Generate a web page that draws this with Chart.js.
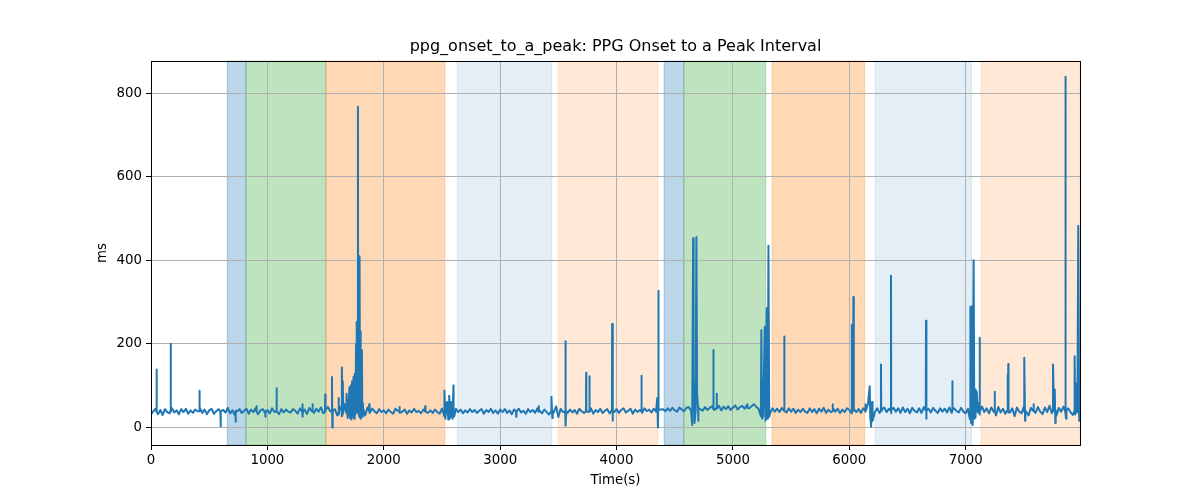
<!DOCTYPE html>
<html>
<head>
<meta charset="utf-8">
<script src="https://cdn.jsdelivr.net/npm/chart.js@4/dist/chart.umd.min.js"></script>
<style>
  html, body { margin: 0; padding: 0; background: #fff; }
  #wrap { width: 1200px; height: 500px; }
</style>
</head>
<body>
<div id="wrap"><canvas id="grafica" width="1200" height="500"></canvas></div>
<script>
// ── Datos ────────────────────────────────────────────────────────────────────
const TITULO = 'ppg_onset_to_a_peak: PPG Onset to a Peak Interval';
const X_LABEL = 'Time(s)';
const Y_LABEL = 'ms';

const X_MIN = 0, X_MAX = 7982;
const Y_MIN = -43, Y_MAX = 878;
const xTicks = [0, 1000, 2000, 3000, 4000, 5000, 6000, 7000];
const yTicks = [0, 200, 400, 600, 800];

// línea base, una muestra cada 20 s (0 … 7980 s)
const BASE_STEP_S = 20;
const baseMs = [
  30,38,44,31,41,29,43,36,33,45,35,40,31,43,36,44,32,40,34,42,
  38,48,34,42,31,40,44,32,38,43,30,41,35,46,33,40,29,38,43,34,
  39,44,32,42,36,46,31,40,43,34,41,33,45,36,39,31,43,35,42,37,
  35,43,39,32,45,36,42,31,46,39,34,44,37,47,33,41,48,38,30,43,
  28,50,26,56,33,64,22,52,30,62,24,58,28,47,34,44,38,33,43,36,
  40,33,42,36,32,44,39,34,37,42,32,40,35,44,36,39,33,42,37,34,
  40,34,42,36,32,44,26,58,22,54,28,44,36,42,33,40,35,43,36,41,
  34,39,43,32,41,36,44,34,40,32,42,36,43,34,40,31,42,36,44,35,
  39,32,43,36,41,34,45,39,33,42,36,30,43,35,50,24,44,36,41,34,
  42,35,41,32,44,38,34,43,36,45,32,41,36,44,34,39,43,33,41,36,
  43,34,41,45,35,39,44,32,42,36,41,34,45,38,42,35,44,37,41,42,
  43,38,45,39,46,40,37,47,42,38,46,48,40,47,41,49,43,39,48,41,
  46,50,41,47,51,40,49,43,50,41,47,52,42,48,51,44,53,45,50,55,
  49,44,26,53,28,58,34,45,37,44,36,46,39,35,45,37,44,34,42,36,
  44,37,34,45,36,43,33,44,37,46,34,42,36,45,37,44,34,42,36,45,
  41,33,44,36,43,34,45,37,55,26,48,36,45,34,42,47,36,44,33,46,
  37,45,34,47,36,44,33,46,39,35,45,34,48,37,44,35,46,39,34,45,
  37,44,35,47,34,45,39,35,46,37,33,44,18,62,23,58,30,49,36,45,
  33,47,37,28,48,35,44,32,49,35,45,26,47,37,33,50,36,28,46,39,
  34,48,37,31,47,36,51,33,44,28,46,37,49,32,45,36,29,48,39,37
];

// picos y caídas (tiempo en s, valor en ms)
const spikeTimes = [
  46,48,50, 167,169,171, 413,415,417, 596,598,600, 725,727,729, 905,907,909,
  982,984,986, 1077,1079,1081, 1300,1302,1304,1306, 1386,1388,1390, 1495,1497,1499,
  1553,1555,1558,1562, 1610,1612,1614, 1638,1640,1644,1648,1652,
  1680,1690,1700,1705,1710,1716,1722,1728,1734,1740,1745,1750,1756,1762,1766,1769,
  1774,1778,1782,1786,1789,1792,1796,1800,1804,1808,1812,1816,1822,
  1873,1875,1877, 2133,2135,2137, 2354,2356,2358,
  2520,2522,2530,2545,2555,2562,2570,2580,2590,2599,2605,
  3136,3138,3140, 3330,3332,3334, 3439,3441,3448,3452, 3559,3561,3565,3568,
  3737,3739,3741, 3765,3767,3769, 3960,3962,3966,3969, 4212,4214,4216,
  4350,4356,4358,4360,4362,
  4650,4658,4664,4670,4686,4692,4700,4706,
  4830,4832,4834, 4859,4861,4863, 5122,5124,5126,
  5244,5250,5260,5273,5280,5290,5296,5305,5312,
  5440,5442,5444, 5855,5857,5859, 6021,6023,6030,6035,6037, 6135,6137,6139,
  6175,6187,6195,6200, 6270,6272,6274, 6356,6358,6360, 6657,6659,6662,6665,
  6883,6885,6887,
  7035,7040,7046,7052,7058,7068,7074,7082,7088,7095,7105,7118,7120,7122,
  7247,7249,7251, 7358,7360,7363,7366,7368, 7501,7503,7510,7513, 7582,7584,7586,
  7748,7750,7758,7765,7770,7773, 7854,7856,7862,7866,
  7934,7936,7940,7950,7955,7967,7975
];
const spikeValues = [
  38,138,36, 39,200,37, 38,87,40, 37,2,38, 36,13,39, 38,50,37,
  38,25,37, 39,93,37, 38,55,25,38, 37,55,38, 36,78,38,
  36,120,-1,38, 35,70,30, 38,143,30,110,35,
  80,22,65,95,22,100,18,110,25,120,20,127,30,200,35,252,
  40,768,30,300,25,410,30,230,20,150,185,25,45,
  38,55,37, 37,48,38, 38,50,37,
  38,88,20,60,18,75,22,60,20,100,25,
  38,25,37, 37,50,38, 38,73,22,38, 38,206,3,38,
  37,130,38, 38,122,37, 38,247,15,39, 38,123,39,
  70,-1,40,327,41,
  5,453,120,10,456,80,15,44,
  44,185,45, 46,80,44, 47,55,46,
  232,20,25,240,15,285,20,435,25,
  40,217,38, 38,55,40, 38,245,40,312,39, 40,55,38,
  98,1,60,15, 38,150,40, 39,363,41, 40,255,20,40,
  39,110,41,
  20,288,10,290,5,400,20,90,30,85,35,40,214,38,
  40,85,38, 40,125,38,151,35, 38,166,15,40, 38,55,40,
  38,150,40,90,10,40, 38,840,20,40,
  38,170,30,105,35,483,15
];

// franjas de fondo (inicio, fin en s) y su color
const spanStarts = [655, 816, 1503, 2631, 3498, 4409, 4578, 5336, 6221, 7131];
const spanEnds   = [816, 1503, 2525, 3444, 4354, 4578, 5282, 6132, 7051, 7982];
const spanColors = [
  'rgba(31,119,180,0.3)', 'rgba(44,160,44,0.3)', 'rgba(255,127,14,0.3)',
  'rgba(31,119,180,0.12)', 'rgba(255,127,14,0.17)',
  'rgba(31,119,180,0.3)', 'rgba(44,160,44,0.3)', 'rgba(255,127,14,0.3)',
  'rgba(31,119,180,0.12)', 'rgba(255,127,14,0.17)'
];

// ── Construcción de la serie ────────────────────────────────────────────────
const puntos = [];
baseMs.forEach((v, i) => puntos.push({ x: i * BASE_STEP_S, y: v }));
spikeTimes.forEach((t, i) => puntos.push({ x: t, y: spikeValues[i] }));
puntos.sort((a, b) => a.x - b.x);

const FUENTE = 'DejaVu Sans, sans-serif';

// fondo + franjas (debajo de la rejilla), marco y título
const pluginFondo = {
  id: 'fondo',
  beforeDraw(chart) {
    const { ctx, chartArea: a, scales } = chart;
    ctx.save();
    ctx.fillStyle = '#ffffff';
    ctx.fillRect(0, 0, chart.width, chart.height);
    spanStarts.forEach((s, i) => {
      const x0 = scales.x.getPixelForValue(s);
      const x1 = scales.x.getPixelForValue(spanEnds[i]);
      ctx.fillStyle = spanColors[i];
      ctx.fillRect(x0, a.top, x1 - x0, a.bottom - a.top);
      ctx.strokeStyle = spanColors[i];
      ctx.lineWidth = 1;
      ctx.strokeRect(x0, a.top, x1 - x0, a.bottom - a.top);
    });
    ctx.restore();
  },
  afterDraw(chart) {
    const { ctx, chartArea: a } = chart;
    ctx.save();
    ctx.strokeStyle = '#000';
    ctx.lineWidth = 1;
    ctx.strokeRect(Math.round(a.left) + 0.5, Math.round(a.top) + 0.5,
      Math.round(a.right - a.left), Math.round(a.bottom - a.top));
    ctx.fillStyle = '#000';
    ctx.font = '16px ' + FUENTE;
    ctx.textAlign = 'center';
    ctx.textBaseline = 'middle';
    ctx.fillText(TITULO, (a.left + a.right) / 2, 47);
    ctx.restore();
  }
};

const tickFont = { family: FUENTE, size: 13.33 };

new Chart(document.getElementById('grafica'), {
  type: 'line',
  data: {
    datasets: [{
      data: puntos,
      borderColor: '#1f77b4',
      borderWidth: 2,
      pointRadius: 0,
      tension: 0,
      fill: false,
      borderJoinStyle: 'round'
    }]
  },
  options: {
    responsive: false,
    animation: false,
    events: [],
    layout: { padding: { top: 61, right: 120, left: 0, bottom: 0 } },
    plugins: {
      legend: { display: false },
      tooltip: { enabled: false },
      title: { display: false }
    },
    scales: {
      x: {
        type: 'linear',
        min: X_MIN,
        max: X_MAX,
        afterFit: s => { s.height = 55; },
        afterBuildTicks: s => { s.ticks = xTicks.map(v => ({ value: v })); },
        ticks: {
          color: '#000', font: tickFont, padding: 3,
          autoSkip: false, maxRotation: 0, includeBounds: false,
          callback: v => String(v)
        },
        grid: { color: '#b0b0b0', lineWidth: 1, tickColor: '#000', tickLength: 5 },
        border: { color: '#000', width: 1 },
        title: {
          display: true, text: X_LABEL, color: '#000',
          font: { family: FUENTE, size: 13.33 }, padding: { top: 0, bottom: 11 }
        }
      },
      y: {
        type: 'linear',
        min: Y_MIN,
        max: Y_MAX,
        afterFit: s => { s.width = 151; },
        afterBuildTicks: s => { s.ticks = yTicks.map(v => ({ value: v })); },
        ticks: {
          color: '#000', font: tickFont, padding: 4,
          includeBounds: false, callback: v => String(v)
        },
        grid: { color: '#b0b0b0', lineWidth: 1, tickColor: '#000', tickLength: 5 },
        border: { color: '#000', width: 1 },
        title: {
          display: true, text: Y_LABEL, color: '#000',
          font: { family: FUENTE, size: 13.33 }, padding: { top: 95, bottom: 0 }
        }
      }
    }
  },
  plugins: [pluginFondo]
});
</script>
</body>
</html>
